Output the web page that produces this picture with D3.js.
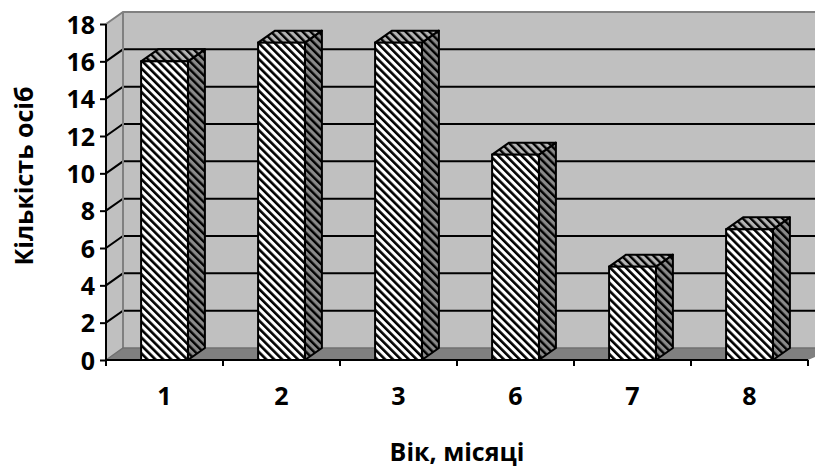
<!DOCTYPE html>
<html>
<head>
<meta charset="utf-8">
<script src="https://cdn.jsdelivr.net/npm/d3@7"></script>
<style>
  html, body { margin: 0; padding: 0; background: #fff; }
  svg { display: block; }
  text { font-family: "Open Sans", "Lato", sans-serif; font-weight: bold; fill: #000; }
</style>
</head>
<body>
<svg id="chart" width="815" height="467"></svg>
<script>
// Age groups (months) and number of people in each
const categories = ["1", "2", "3", "6", "7", "8"];
const counts = [16, 17, 17, 11, 5, 7];
const yTicks = [0, 2, 4, 6, 8, 10, 12, 14, 16, 18];
const xTitle = "Вік, місяці";
const yTitle = "Кількість осіб";

const W = 815, H = 467;
const FONT = "Open Sans";
const svg = d3.select("#chart");

// front plane of the pseudo-3D plot box and the depth offset
const plot = { left: 106, right: 808, top: 24, bottom: 360 };
const depth = { dx: 17, dy: -12 };

const x = d3.scaleBand()
  .domain(categories)
  .range([plot.left, plot.right])
  .paddingInner(0.6)
  .paddingOuter(0.3);

const y = d3.scaleLinear()
  .domain([0, 18])
  .range([plot.bottom, plot.top]);

// hatch patterns for the bar faces
const defs = svg.append("defs");
function hatch(id, bg, stripe, period, sw) {
  const p = defs.append("pattern")
    .attr("id", id)
    .attr("patternUnits", "userSpaceOnUse")
    .attr("width", period)
    .attr("height", period)
    .attr("patternTransform", "rotate(-45)");
  p.append("rect").attr("width", period).attr("height", period).attr("fill", bg);
  p.append("rect").attr("width", sw).attr("height", period).attr("fill", stripe);
}
hatch("hFront", "#ffffff", "#000000", 5.6, 2.6);
hatch("hSide", "#8a8a8a", "#000000", 5.6, 2.4);
hatch("hTop", "#b4b4b4", "#000000", 5.6, 2.4);

const bx = plot.left + depth.dx, by = plot.bottom + depth.dy;
const right = W + 20;
const line = d3.line();

// back wall
svg.append("path")
  .attr("d", line([[bx, y(18) + depth.dy], [right, y(18) + depth.dy], [right, by], [bx, by]]) + "Z")
  .attr("fill", "#c0c0c0");
// side wall
svg.append("path")
  .attr("d", line([[plot.left, y(18)], [bx, y(18) + depth.dy], [bx, by], [plot.left, plot.bottom]]) + "Z")
  .attr("fill", "#c0c0c0");
// floor
svg.append("path")
  .attr("d", line([[plot.left, plot.bottom], [bx, by], [right, by], [plot.right, plot.bottom]]) + "Z")
  .attr("fill", "#808080");

// gridlines on the walls
const grid = svg.append("g");
yTicks.filter(v => v > 0 && v < 18).forEach(v => {
  grid.append("path")
    .attr("d", line([[plot.left, y(v)], [bx, y(v) + depth.dy], [right, y(v) + depth.dy]]))
    .attr("fill", "none").attr("stroke", "#000").attr("stroke-width", 2);
});
// wall edges
svg.append("path")
  .attr("d", line([[plot.left, y(18)], [bx, y(18) + depth.dy], [right, y(18) + depth.dy]]))
  .attr("fill", "none").attr("stroke", "#808080").attr("stroke-width", 2);
svg.append("path")
  .attr("d", line([[bx, y(18) + depth.dy], [bx, by]]))
  .attr("fill", "none").attr("stroke", "#808080").attr("stroke-width", 2);
svg.append("path")
  .attr("d", line([[plot.left, plot.bottom], [bx, by], [right, by]]))
  .attr("fill", "none").attr("stroke", "#707070").attr("stroke-width", 1.5);

// bars: front, side and top faces
const bw = x.bandwidth();
const bars = svg.append("g").selectAll("g").data(categories).join("g");
bars.each(function (c, i) {
  const g = d3.select(this);
  const x0 = x(c), x1 = x0 + bw, yt = y(counts[i]), yb = y(0);
  g.append("path")
    .attr("d", line([[x1, yt], [x1 + depth.dx, yt + depth.dy], [x1 + depth.dx, yb + depth.dy], [x1, yb]]) + "Z")
    .attr("fill", "url(#hSide)").attr("stroke", "#000").attr("stroke-width", 2).attr("stroke-linejoin", "round");
  g.append("path")
    .attr("d", line([[x0, yt], [x0 + depth.dx, yt + depth.dy], [x1 + depth.dx, yt + depth.dy], [x1, yt]]) + "Z")
    .attr("fill", "url(#hTop)").attr("stroke", "#000").attr("stroke-width", 2).attr("stroke-linejoin", "round");
  g.append("rect")
    .attr("x", x0).attr("y", yt).attr("width", bw).attr("height", yb - yt)
    .attr("fill", "url(#hFront)").attr("stroke", "#000").attr("stroke-width", 2);
});

// front axes
const yAxis = svg.append("g")
  .attr("transform", `translate(${plot.left},0)`)
  .call(d3.axisLeft(y).tickValues(yTicks).tickSize(6).tickPadding(5).tickFormat(d3.format("d")));
yAxis.select(".domain").attr("stroke", "#000").attr("stroke-width", 2).attr("d", `M0,${plot.top}V${plot.bottom}`);
yAxis.selectAll(".tick line").attr("stroke", "#000").attr("stroke-width", 2);
yAxis.selectAll(".tick text").attr("font-size", 25).attr("font-family", FONT).attr("font-weight", "bold").attr("fill", "#000").attr("dy", "0.36em");

const xAxis = svg.append("g")
  .attr("transform", `translate(0,${plot.bottom})`)
  .call(d3.axisBottom(x).tickSize(0).tickPadding(36));
xAxis.select(".domain").attr("stroke", "#000").attr("stroke-width", 2).attr("d", `M${plot.left},0H${plot.right}`);
xAxis.selectAll(".tick text").attr("font-size", 25).attr("font-family", FONT).attr("font-weight", "bold").attr("fill", "#000").attr("dy", "0.36em");
// category boundary ticks
const bounds = d3.range(categories.length + 1).map(i => plot.left + i * x.step());
xAxis.selectAll(".bound").data(bounds).join("line")
  .attr("class", "bound")
  .attr("x1", d => d).attr("x2", d => d).attr("y1", 0).attr("y2", 6)
  .attr("stroke", "#000").attr("stroke-width", 2);

// axis titles
svg.append("text")
  .attr("x", 457).attr("y", 461)
  .attr("text-anchor", "middle").attr("font-size", 25)
  .text(xTitle);
svg.append("text")
  .attr("transform", "translate(33,176) rotate(-90)")
  .attr("text-anchor", "middle").attr("font-size", 25)
  .text(yTitle);
</script>
</body>
</html>
